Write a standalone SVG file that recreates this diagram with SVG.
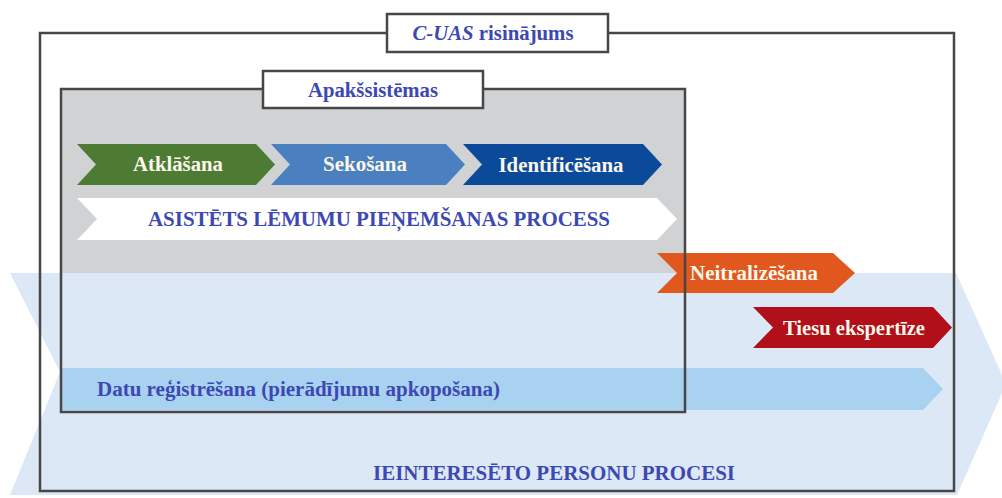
<svg xmlns="http://www.w3.org/2000/svg" width="1002" height="498" viewBox="0 0 1002 498">
<style>
text{font-family:'Liberation Serif','DejaVu Serif',serif;font-weight:bold;font-size:20px}
.blue{fill:#3d48b3}
.lt{fill:#fbf7ea}
.frame{fill:none;stroke:#474747;stroke-width:2.5}
.label{fill:#ffffff;stroke:#474747;stroke-width:2.5}
</style>
<rect width="1002" height="498" fill="#ffffff"/>
<g id="subsystems-bg">
<rect x="61" y="89" width="624" height="323" fill="#d1d2d4"/>
</g>
<g id="stakeholder-processes">
<polygon points="10,273 956,273 1006,384 957,495 10,495 60,372" fill="#dce8f5"/>
<text class="blue" x="554" y="480" text-anchor="middle" textLength="362" lengthAdjust="spacingAndGlyphs">IEINTERESĒTO PERSONU PROCESI</text>
</g>
<g id="data-recording">
<polygon points="61,368 923,368 943,389 923,410 61,410" fill="#a9d2f0"/>
<text class="blue" x="97" y="396" textLength="403" lengthAdjust="spacingAndGlyphs">Datu reģistrēšana (pierādījumu apkopošana)</text>
</g>
<g id="detection">
<polygon points="77,144 256,144 275,164.5 256,185 77,185 96,164.5" fill="#4e7b33"/>
<text class="lt" x="178" y="171" text-anchor="middle" textLength="90" lengthAdjust="spacingAndGlyphs">Atklāšana</text>
</g>
<g id="tracking">
<polygon points="271,144 446,144 465,164.5 446,185 271,185 290,164.5" fill="#4a7fc0"/>
<text class="lt" x="365" y="171" text-anchor="middle" textLength="84" lengthAdjust="spacingAndGlyphs">Sekošana</text>
</g>
<g id="identification">
<polygon points="463,144 643,144 662,164.5 643,185 463,185 482,164.5" fill="#0b4a9b"/>
<text class="lt" x="561" y="172" text-anchor="middle" textLength="125" lengthAdjust="spacingAndGlyphs">Identificēšana</text>
</g>
<g id="decision-process">
<polygon points="77,198 657,198 677,219 657,240 77,240 97,219" fill="#ffffff"/>
<text class="blue" x="379" y="226" text-anchor="middle" textLength="462" lengthAdjust="spacingAndGlyphs">ASISTĒTS LĒMUMU PIEŅEMŠANAS PROCESS</text>
</g>
<g id="neutralisation">
<polygon points="657,253 833,253 855,273 833,293 657,293 677,273" fill="#e0581e"/>
<text class="lt" x="754" y="280" text-anchor="middle" textLength="128" lengthAdjust="spacingAndGlyphs">Neitralizēšana</text>
</g>
<g id="forensics">
<polygon points="753,307 933,307 952,327.5 933,348 753,348 773,327.5" fill="#b10f19"/>
<text class="lt" x="854" y="335" text-anchor="middle" textLength="142" lengthAdjust="spacingAndGlyphs">Tiesu ekspertīze</text>
</g>
<g id="subsystems">
<rect class="frame" x="61" y="89" width="624" height="323"/>
<rect class="label" x="263" y="71" width="220" height="37"/>
<text class="blue" x="373" y="97" text-anchor="middle" textLength="130" lengthAdjust="spacingAndGlyphs">Apakšsistēmas</text>
</g>
<g id="cuas-solution">
<rect class="frame" x="40" y="33" width="914" height="458"/>
<rect class="label" x="387" y="14" width="221" height="38"/>
<text class="blue" x="493" y="40" text-anchor="middle" textLength="161" lengthAdjust="spacingAndGlyphs"><tspan font-style="italic">C-UAS</tspan> risinājums</text>
</g>
<g id="connectors"></g>
</svg>
